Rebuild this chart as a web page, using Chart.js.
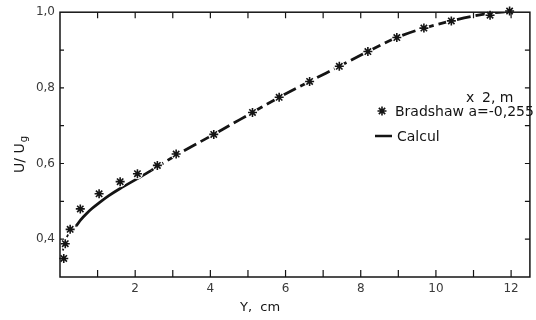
<!DOCTYPE html>
<html>
<head>
<meta charset="utf-8">
<script src="https://cdn.jsdelivr.net/npm/chart.js@4.4.1/dist/chart.umd.min.js"></script>
<style>
  html, body { margin: 0; padding: 0; background: #fff; }
  #wrap { width: 536px; height: 320px; }
</style>
</head>
<body>
<div id="wrap"><canvas id="profile" width="536" height="320"></canvas></div>
<script>
// Bradshaw measurements, x = 2 m
const starX = [0.10, 0.14, 0.27, 0.54, 1.04, 1.60, 2.06, 2.59, 3.09, 4.09, 5.12, 5.83, 6.64, 7.43, 8.19, 8.96, 9.68, 10.41, 11.44, 11.96]
const starY = [0.349, 0.388, 0.426, 0.480, 0.520, 0.552, 0.573, 0.595, 0.625, 0.677, 0.735, 0.775, 0.817, 0.857, 0.896, 0.933, 0.958, 0.977, 0.992, 1.003]

// computed profile
const calculX = [0.04, 0.12, 0.25, 0.43, 0.55, 0.71, 0.85, 1.04, 1.30, 1.60, 2.06, 2.43, 3.09, 4.09, 5.12, 5.83, 6.64, 7.43, 8.19, 8.96, 9.68, 10.41, 11.00, 11.50, 12.00]
const calculY = [0.352, 0.388, 0.418, 0.435, 0.451, 0.468, 0.481, 0.496, 0.515, 0.534, 0.560, 0.582, 0.622, 0.677, 0.735, 0.775, 0.817, 0.857, 0.896, 0.933, 0.958, 0.977, 0.990, 0.998, 1.002]
const solidFrom = 0.43
const solidTo = 2.43

// axis ticks and their labels
const xTicks = [1, 2, 3, 4, 5, 6, 7, 8, 9, 10, 11, 12]
const xLabelled = [2, 4, 6, 8, 10, 12]
const yTicks = [0.4, 0.5, 0.6, 0.7, 0.8, 0.9, 1.0]
const yLabelled = [0.4, 0.6, 0.8, 1.0]

const ink = '#141414'
const labelInk = '#3a3a3a'
const font = '"DejaVu Sans", sans-serif'

const stars = starX.map((x, i) => ({ x, y: starY[i] }))
const calcul = calculX.map((x, i) => ({ x, y: calculY[i] }))

const comma = (v) => v.toFixed(1).replace('.', ',')
const isIn = (list, v) => list.some((t) => Math.abs(t - v) < 1e-6)

// inward ticks, frame, legend and axis titles
const decor = {
  id: 'decor',
  afterDatasetsDraw(chart) {
    const { ctx, chartArea: a, scales } = chart
    ctx.save()
    ctx.strokeStyle = ink
    ctx.lineWidth = 1.5
    ctx.strokeRect(a.left, a.top, a.right - a.left, a.bottom - a.top)

    ctx.lineWidth = 1.2
    ctx.beginPath()
    xTicks.forEach((v) => {
      const px = scales.x.getPixelForValue(v)
      ctx.moveTo(px, a.bottom)
      ctx.lineTo(px, a.bottom - 7)
      ctx.moveTo(px, a.top)
      ctx.lineTo(px, a.top + 6)
    })
    yTicks.slice(0, -1).forEach((v) => {
      const py = scales.y.getPixelForValue(v)
      ctx.moveTo(a.left, py)
      ctx.lineTo(a.left + 4, py)
      ctx.moveTo(a.right, py)
      ctx.lineTo(a.right - 5, py)
    })
    ctx.stroke()
    ctx.restore()
  },
  afterDraw(chart) {
    const { ctx } = chart
    ctx.save()
    ctx.fillStyle = ink
    ctx.strokeStyle = ink
    ctx.textBaseline = 'middle'
    ctx.textAlign = 'left'

    // legend
    ctx.font = '14px ' + font
    ctx.fillText('x', 466, 98)
    ctx.fillText('2, m', 482, 98)
    Chart.helpers.drawPoint(ctx, { pointStyle: 'star', radius: 4.5, borderWidth: 1.6, rotation: 0 }, 382, 111)
    ctx.fillText('Bradshaw a=-0,255', 395, 112)
    ctx.lineWidth = 2.5
    ctx.beginPath()
    ctx.moveTo(375, 136)
    ctx.lineTo(392, 136)
    ctx.stroke()
    ctx.fillText('Calcul', 397, 137)

    // axis titles
    ctx.font = '13px ' + font
    ctx.fillText('Y,  cm', 240, 308)
    ctx.translate(20, 155)
    ctx.rotate(-Math.PI / 2)
    const main = 'U/ U'
    ctx.font = '14px ' + font
    const w = ctx.measureText(main).width
    ctx.font = '10px ' + font
    const wg = ctx.measureText('g').width
    const start = -(w + wg) / 2
    ctx.font = '14px ' + font
    ctx.fillText(main, start, 0)
    ctx.font = '10px ' + font
    ctx.fillText('g', start + w + 1, 4)
    ctx.restore()
  },
}

new Chart(document.getElementById('profile'), {
  type: 'scatter',
  data: {
    datasets: [
      {
        label: 'Bradshaw a=-0,255',
        data: stars,
        pointStyle: 'star',
        pointRadius: 4.5,
        pointBorderWidth: 1.6,
        borderColor: ink,
        backgroundColor: ink,
        clip: false,
        order: 0,
      },
      {
        // white halo that breaks the line around each star
        label: 'halo',
        data: stars,
        pointStyle: 'circle',
        pointRadius: 5.5,
        pointBorderWidth: 0,
        backgroundColor: '#fff',
        borderColor: '#fff',
        clip: false,
        order: 1,
      },
      {
        label: 'Calcul',
        data: calcul,
        showLine: true,
        pointRadius: 0,
        borderColor: ink,
        borderWidth: 2.8,
        cubicInterpolationMode: 'monotone',
        segment: {
          borderDash: (c) => {
            const x0 = c.p0.parsed.x
            if (x0 < solidFrom) return [3, 4]
            if (x0 >= solidTo) return [14, 5]
            return undefined
          },
          borderWidth: (c) => (c.p0.parsed.x < solidFrom ? 1.8 : 2.8),
        },
        order: 2,
      },
    ],
  },
  options: {
    responsive: false,
    animation: false,
    layout: { padding: { top: 7, right: 1, left: 0, bottom: 0 } },
    plugins: {
      legend: { display: false },
      tooltip: { enabled: false },
    },
    scales: {
      x: {
        type: 'linear',
        min: 0,
        max: 12.5,
        afterFit: (s) => { s.height = 43 },
        afterBuildTicks: (s) => { s.ticks = xTicks.map((value) => ({ value })) },
        border: { display: false },
        grid: { display: false, drawTicks: false },
        ticks: {
          autoSkip: false,
          maxRotation: 0,
          padding: 5,
          color: labelInk,
          font: { family: font, size: 12 },
          callback: (v) => (isIn(xLabelled, v) ? String(v) : ''),
        },
      },
      y: {
        type: 'linear',
        min: 0.3,
        max: 1.0,
        afterFit: (s) => { s.width = 60 },
        afterBuildTicks: (s) => { s.ticks = yTicks.map((value) => ({ value })) },
        border: { display: false },
        grid: { display: false, drawTicks: false },
        ticks: {
          autoSkip: false,
          padding: 5,
          color: labelInk,
          font: { family: font, size: 12 },
          callback: (v) => (isIn(yLabelled, v) ? comma(v) : ''),
        },
      },
    },
  },
  plugins: [decor],
})
</script>
</body>
</html>
